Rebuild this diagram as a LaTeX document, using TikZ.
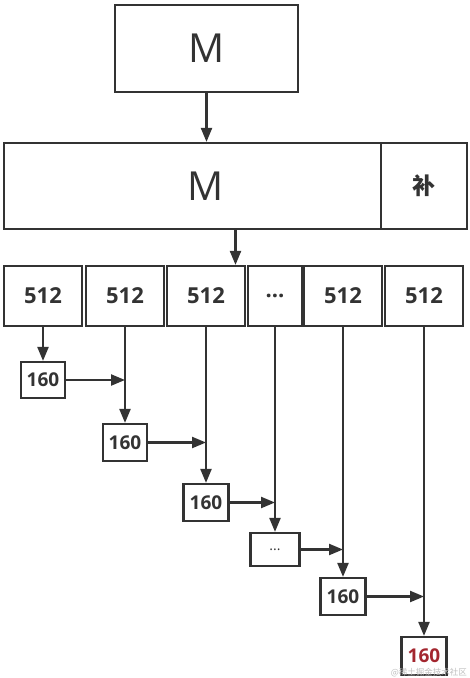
\documentclass[tikz,border=0pt]{standalone}
\usepackage{fontspec}
\setmainfont{Open Sans}
\newfontfamily\cjk{Noto Sans CJK SC}
\usetikzlibrary{arrows.meta}
\definecolor{ink}{HTML}{333333}
\definecolor{redtxt}{HTML}{A3262F}
\begin{document}
\begin{tikzpicture}[x=1pt,y=-1pt,
  box/.style={draw=ink,line width=2.2pt,rectangle,inner sep=0pt,fill=white},
  bignum/.style={font=\fontsize{22}{22}\selectfont\bfseries,text=ink},
  smallnum/.style={font=\fontsize{19}{19}\selectfont\bfseries,text=ink},
  arr/.style={draw=ink,line width=2.2pt,-{Triangle[length=14pt,width=11pt]}},
  ln/.style={draw=ink,line width=2.2pt}]
\useasboundingbox[fill=white] (0,0) rectangle (470,678);
% top M
\node[box,minimum width=183pt,minimum height=87pt,font=\fontsize{40}{40}\selectfont,text=ink] (topM) at (206.5,48.5) {M};
% big box
\node[box,minimum width=463pt,minimum height=86pt] (big) at (235.5,186) {};
\node[box,minimum width=86pt,minimum height=86pt,font=\cjk\bfseries\fontsize{23}{23}\selectfont,text=ink] (bu) at (424,186) {补};
\node[font=\fontsize{40}{40}\selectfont,text=ink] (bigM) at (206,186) {M};
\draw[arr] (topM.south) -- (topM.south |- big.north);
% row
\node[box,bignum,minimum width=78pt,minimum height=60pt] (c1) at (43,296) {512};
\node[box,bignum,minimum width=78pt,minimum height=60pt] (c2) at (125,296) {512};
\node[box,bignum,minimum width=78pt,minimum height=60pt] (c3) at (206,296) {512};
\node[box,bignum,minimum width=54pt,minimum height=60pt] (c4) at (275,296) {...};
\node[box,bignum,minimum width=78pt,minimum height=60pt] (c5) at (343,296) {512};
\node[box,bignum,minimum width=78pt,minimum height=60pt] (c6) at (424,296) {512};
\draw[arr] (big.south) -- (big.south |- c3.north);
% small boxes
\node[box,smallnum,minimum width=44pt,minimum height=36pt] (s1) at (43,380) {160};
\node[box,smallnum,minimum width=44pt,minimum height=37pt] (s2) at (125,442.5) {160};
\node[box,smallnum,minimum width=45pt,minimum height=37pt] (s3) at (206,502.5) {160};
\node[box,minimum width=49pt,minimum height=33pt,font=\fontsize{14}{14}\selectfont,text=ink] (s4) at (275,549.5) {...};
\node[box,smallnum,minimum width=45pt,minimum height=38pt,text=redtxt] (s6) at (424,656) {160};
\node[box,smallnum,minimum width=45pt,minimum height=37pt] (s5) at (343,596.5) {160};
% vertical connectors
\draw[arr] (c1.south) -- (s1.north);
\draw[arr] (c2.south) -- (s2.north);
\draw[arr] (c3.south) -- (s3.north);
\draw[arr] (c4.south) -- (s4.north);
\draw[arr] (c5.south) -- (s5.north);
\draw[arr] (c6.south) -- (s6.north);
% horizontal connectors
\draw[arr] (s1.east) -- (s1.east -| c2.south);
\draw[arr] (s2.east) -- (s2.east -| c3.south);
\draw[arr] (s3.east) -- (s3.east -| c4.south);
\draw[arr] (s4.east) -- (s4.east -| c5.south);
\draw[arr] (s5.east) -- (s5.east -| c6.south);
% watermark
\node[font=\cjk\fontsize{8.5}{8.5}\selectfont,text=black!25,anchor=east,inner sep=0pt] (wm) at (467,673) {@稀土掘金技术社区};
\end{tikzpicture}
\end{document}
